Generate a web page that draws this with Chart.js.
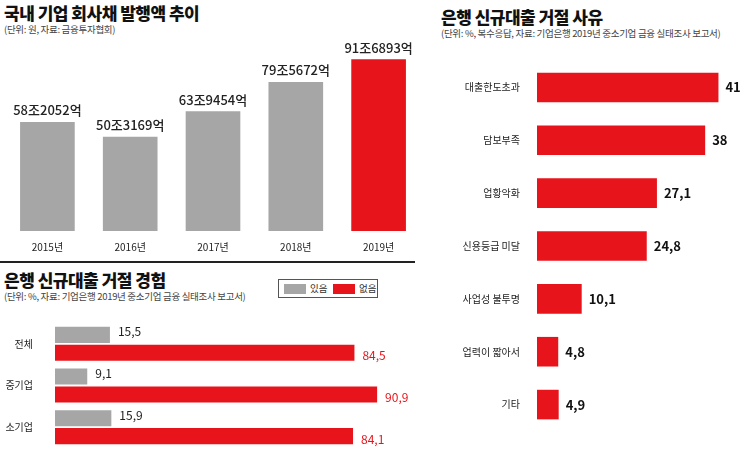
<!DOCTYPE html>
<html><head><meta charset="utf-8">
<script src="https://cdn.jsdelivr.net/npm/chart.js@4"></script>
<style>
body{margin:0;width:745px;height:466px;background:#fff;position:relative;overflow:hidden;font-family:"Noto Sans CJK KR",sans-serif;}
.t{position:absolute;font-weight:900;font-size:17px;color:#111;letter-spacing:-0.5px;white-space:nowrap}
.s{position:absolute;font-size:9.5px;color:#444;white-space:nowrap;letter-spacing:-0.3px}
canvas{position:absolute}
</style></head><body>
<div class="t" style="left:4px;top:0px">국내 기업 회사채 발행액 추이</div>
<div class="s" style="left:4px;top:22px">(단위: 원, 자료: 금융투자협회)</div>
<div class="t" style="left:4px;top:267px">은행 신규대출 거절 경험</div>
<div class="s" style="left:4px;top:289px">(단위: %, 자료: 기업은행 2019년 중소기업 금융 실태조사 보고서)</div>
<div style="position:absolute;left:0;top:261px;width:415px;height:2px;background:#222"></div>
<div style="position:absolute;left:278px;top:279px;width:98px;height:17px;border:1px solid #555;font-size:9.5px;color:#333">
 <span style="position:absolute;left:5px;top:4px;width:22px;height:10px;background:#a6a6a6"></span>
 <span style="position:absolute;left:31px;top:1px">있음</span>
 <span style="position:absolute;left:54px;top:4px;width:22px;height:10px;background:#e8141b"></span>
 <span style="position:absolute;left:80px;top:1px">없음</span>
</div>
<div class="t" style="left:441px;top:4px">은행 신규대출 거절 사유</div>
<div class="s" style="left:441px;top:26px">(단위: %, 복수응답, 자료: 기업은행 2019년 중소기업 금융 실태조사 보고서)</div>
<canvas id="c1" width="420" height="215" style="left:0;top:40px"></canvas>
<canvas id="c2" width="420" height="165" style="left:0;top:303px"></canvas>
<canvas id="c3" width="317" height="400" style="left:428px;top:46px"></canvas>
<script>
const years=['2015년','2016년','2017년','2018년','2019년'];
const bondValues=[58.2052,50.3169,63.9454,79.5672,91.6893];
const bondLabels=['58조2052억','50조3169억','63조9454억','79조5672억','91조6893억'];
const expCats=['전체','중기업','소기업'];
const expYes=[15.5,9.1,15.9];
const expNo=[84.5,90.9,84.1];
const reasonCats=['대출한도초과','담보부족','업황악화','신용등급 미달','사업성 불투명','업력이 짧아서','기타'];
const reasonValues=[41,38,27.1,24.8,10.1,4.8,4.9];
const GRAY='#a6a6a6',RED='#e8141b';
const F='"Noto Sans CJK KR",sans-serif';
Chart.defaults.font.family=F;
Chart.defaults.animation=false;
function lbl(fn){return{id:'lbl',afterDatasetsDraw(ch){const ctx=ch.ctx;ctx.save();ch.data.datasets.forEach((ds,di)=>{ch.getDatasetMeta(di).data.forEach((el,i)=>fn(ctx,el,ds,di,i));});ctx.restore();}};}
new Chart(c1,{type:'bar',data:{labels:years,datasets:[{data:bondValues,backgroundColor:[GRAY,GRAY,GRAY,GRAY,RED],barPercentage:0.66,categoryPercentage:1}]},
options:{responsive:false,layout:{padding:{left:6,right:0}},plugins:{legend:{display:false},tooltip:{enabled:false}},
scales:{y:{display:false,min:0,max:102},x:{grid:{display:false},border:{display:false},ticks:{color:'#222',font:{size:10},padding:2}}}},
plugins:[lbl((ctx,el,ds,di,i)=>{ctx.font='500 13px '+F;ctx.fillStyle='#222';ctx.textAlign='center';ctx.textBaseline='bottom';ctx.fillText(bondLabels[i],el.x,el.y-5);})]});
new Chart(c2,{type:'bar',data:{labels:expCats,datasets:[{data:expYes,backgroundColor:GRAY,barPercentage:0.9,categoryPercentage:0.86},{data:expNo,backgroundColor:RED,barPercentage:0.9,categoryPercentage:0.86}]},
options:{indexAxis:'y',responsive:false,layout:{padding:{top:2,bottom:0}},plugins:{legend:{display:false},tooltip:{enabled:false}},
scales:{x:{display:false,min:0,max:103},y:{afterFit(s){s.width=55;},grid:{display:false},border:{display:false},ticks:{color:'#222',font:{size:10},padding:14}}}},
plugins:[lbl((ctx,el,ds,di,i)=>{ctx.font='12px '+F;ctx.fillStyle=di?RED:'#222';ctx.textAlign='left';ctx.textBaseline='middle';ctx.fillText(String(ds.data[i]).replace('.',','),el.x+8,el.y+(di?3:-3));})]});
new Chart(c3,{type:'bar',data:{labels:reasonCats,datasets:[{data:reasonValues,backgroundColor:RED,barPercentage:0.56,categoryPercentage:1}]},
options:{indexAxis:'y',responsive:false,plugins:{legend:{display:false},tooltip:{enabled:false}},
scales:{x:{display:false,min:0,max:47},y:{afterFit(s){s.width=109;},grid:{display:false},border:{display:false},ticks:{color:'#222',font:{size:10},padding:9}}}},
plugins:[lbl((ctx,el,ds,di,i)=>{ctx.font='bold 13px '+F;ctx.fillStyle='#111';ctx.textAlign='left';ctx.textBaseline='middle';ctx.fillText(String(ds.data[i]).replace('.',','),el.x+7,el.y);})]});
</script></body></html>
